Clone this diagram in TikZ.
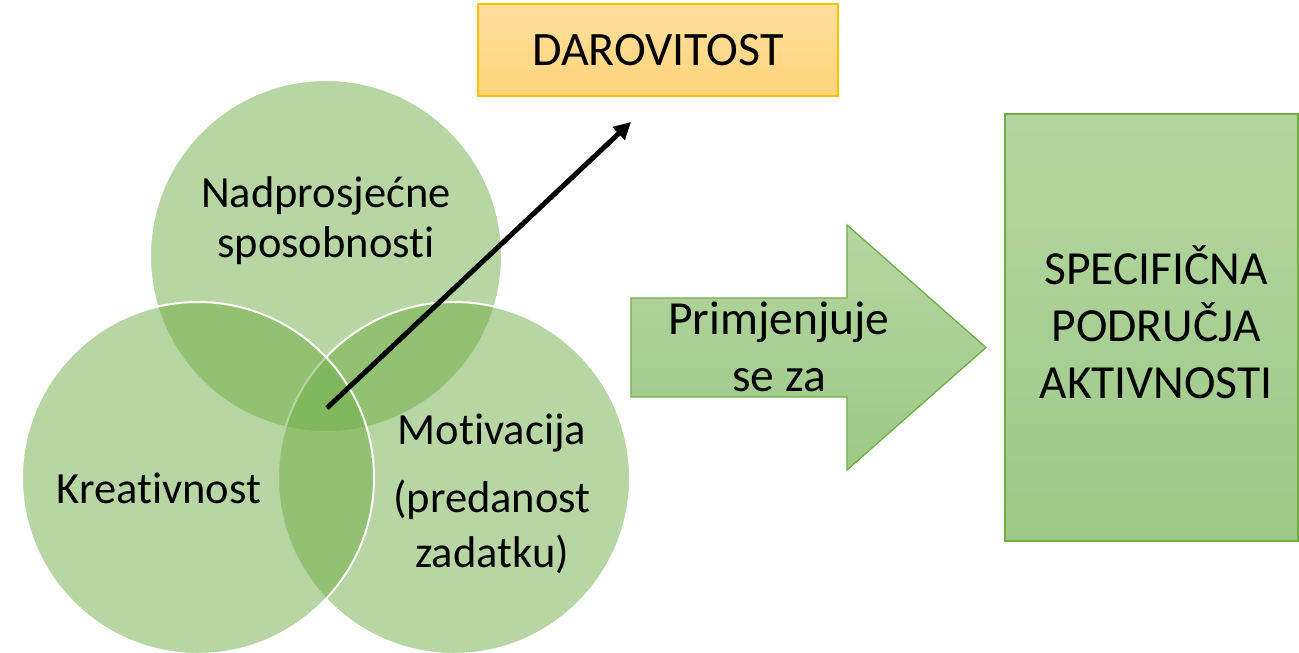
\documentclass[tikz,border=0pt]{standalone}
\usepackage{fontspec}
\setmainfont{Carlito}[Ligatures={NoCommon}]
\usetikzlibrary{arrows.meta}
\definecolor{vgreen}{RGB}{112,173,71}
\definecolor{gtop}{RGB}{181,214,161}
\definecolor{gbot}{RGB}{157,201,134}
\definecolor{otop}{RGB}{255,223,158}
\definecolor{obot}{RGB}{255,212,122}
\definecolor{oborder}{RGB}{255,192,0}
\tikzset{
  venn/.style={circle, minimum size=352pt, inner sep=0pt, fill=vgreen, fill opacity=0.5, draw=white, draw opacity=1, line width=2pt},
  lbl/.style={inner sep=0pt, align=center, text=black, font=\fontsize{44.5}{50}\selectfont},
  biglbl/.style={inner sep=0pt, align=center, text=black, font=\fontsize{47.5}{57}\selectfont},
  greenshape/.style={top color=gtop, bottom color=gbot, draw=vgreen, line width=1.3pt},
  goldbox/.style={rectangle, top color=otop, bottom color=obot, draw=oborder, line width=1.3pt, minimum width=360pt, minimum height=92pt, inner sep=0pt, font=\fontsize{48}{56}\selectfont},
  pointer/.style={line width=5pt, -{Triangle[length=17pt,width=17pt]}}
}
\begin{document}
\begin{tikzpicture}[x=1pt,y=-1pt]
\useasboundingbox (0,0) rectangle (1299,653);
\clip (0,0) rectangle (1299,653);
% Venn circles
\node[venn] (ctop) at (326,256) {};
\node[venn] (cright) at (454,478) {};
\node[venn] (cleft) at (198,478) {};
% labels
\node[lbl, anchor=base] (tnad) at (326,257) {Nadprosjećne\\sposobnosti};
\node[lbl, anchor=base] (tkre) at (159,503) {Kreativnost};
\node[lbl, anchor=base, font=\fontsize{44.5}{55}\selectfont] (tmot) at (492,567) {Motivacija\\[13pt](predanost\\zadatku)};
% gold box
\node[goldbox] (daro) at (658,50) {DAROVITOST};
% pointer arrow
\coordinate (pstart) at (327,408);
\coordinate (pend) at (631,122);
\draw[pointer] (pstart) -- (pend);
% block arrow
\path[greenshape] (631,298) -- (847,298) -- (847,225) -- (986,347.5) -- (847,470) -- (847,397) -- (631,397) -- cycle;
\node[biglbl, anchor=base] (tprim) at (779,391) {Primjenjuje\\se za};
% right box
\path[greenshape] (1005,114) rectangle (1298,541);
\node[biglbl, anchor=base] (tspec) at (1156,398) {SPECIFIČNA\\PODRUČJA\\AKTIVNOSTI};
\end{tikzpicture}
\end{document}
